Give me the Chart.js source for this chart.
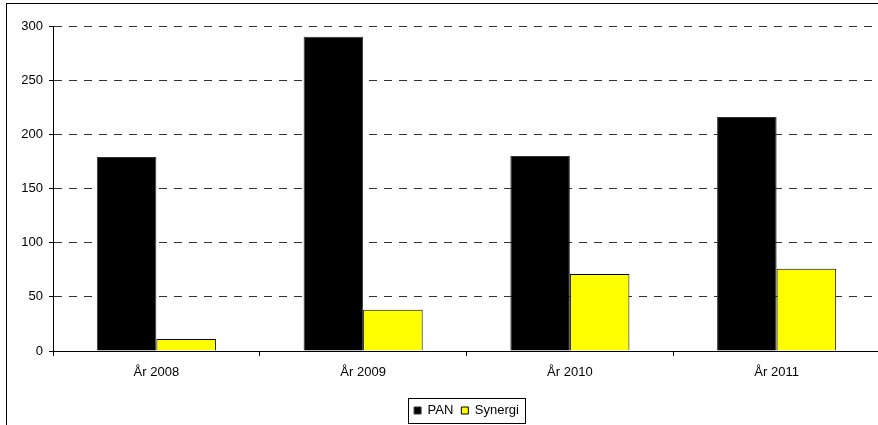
<!DOCTYPE html>
<html>
<head>
<meta charset="utf-8">
<script src="https://cdn.jsdelivr.net/npm/chart.js@4/dist/chart.umd.min.js"></script>
<style>
  html, body { margin: 0; padding: 0; background: #fff; overflow: hidden; }
  canvas { display: block; }
</style>
</head>
<body>
<canvas id="c" width="880" height="427"></canvas>
<script>
// Categories and series
const categories = ['År 2008', 'År 2009', 'År 2010', 'År 2011'];
const panValues = [179, 290, 180, 216];
const synergiValues = [11, 38, 71, 76];
const yTicks = [0, 50, 100, 150, 200, 250, 300];

const FONT = { family: '"Liberation Sans", Arial, sans-serif', size: 13 };

// White background and the outer frame of the chart
const framePlugin = {
  id: 'frame',
  beforeDraw(chart) {
    const ctx = chart.ctx;
    ctx.save();
    ctx.fillStyle = '#fff';
    ctx.fillRect(0, 0, chart.width, chart.height);
    ctx.strokeStyle = '#000';
    ctx.lineWidth = 1;
    ctx.strokeRect(6.5, 3.5, 3000, 3000);
    ctx.restore();
  }
};

// Border around the legend entries
const legendBoxPlugin = {
  id: 'legendBox',
  afterDraw(chart) {
    const lg = chart.legend;
    if (!lg || !lg.legendHitBoxes || !lg.legendHitBoxes.length) return;
    let minX = Infinity, maxX = -Infinity, top = Infinity, h = 0;
    lg.legendHitBoxes.forEach(b => {
      minX = Math.min(minX, b.left);
      maxX = Math.max(maxX, b.left + b.width);
      top = Math.min(top, b.top);
      h = Math.max(h, b.height);
    });
    const cy = top + h / 2;
    const x1 = Math.round(minX - 6) + 0.5;
    const x2 = Math.round(maxX + 6) + 0.5;
    const y1 = Math.round(cy - 12.7) + 0.5;
    const y2 = Math.round(cy + 12.3) + 0.5;
    const ctx = chart.ctx;
    ctx.save();
    ctx.strokeStyle = '#000';
    ctx.lineWidth = 1;
    ctx.strokeRect(x1, y1, x2 - x1, y2 - y1);
    ctx.restore();
  }
};

new Chart(document.getElementById('c'), {
  type: 'bar',
  data: {
    labels: categories,
    datasets: [
      {
        label: 'PAN',
        data: panValues,
        backgroundColor: '#000000',
        borderColor: '#333333',
        borderWidth: 1,
        borderSkipped: 'bottom'
      },
      {
        label: 'Synergi',
        data: synergiValues,
        backgroundColor: '#FFFF00',
        borderColor: '#000000',
        borderWidth: 1,
        borderSkipped: 'bottom'
      }
    ]
  },
  options: {
    responsive: false,
    animation: false,
    devicePixelRatio: 1,
    layout: { padding: { top: 26, left: 0, right: 0, bottom: 0 } },
    datasets: {
      bar: { categoryPercentage: 0.576, barPercentage: 1.0 }
    },
    scales: {
      x: {
        offset: true,
        grid: {
          offset: true,
          drawOnChartArea: false,
          drawTicks: true,
          tickLength: 5,
          tickColor: '#000',
          color: '#000'
        },
        border: { display: true, color: '#000', width: 1 },
        ticks: { color: '#000', font: FONT, padding: 9, maxRotation: 0 },
        afterFit(scale) { scale.height = 45; }
      },
      y: {
        min: 0,
        max: 300,
        afterBuildTicks(scale) { scale.ticks = yTicks.map(v => ({ value: v })); },
        grid: {
          color: '#333',
          lineWidth: 1,
          drawTicks: true,
          tickLength: 4,
          tickColor: '#000',
          tickBorderDash: []
        },
        border: { display: true, color: '#000', width: 1, dash: [8, 7] },
        ticks: { color: '#000', font: FONT, padding: 6 },
        afterFit(scale) { scale.width = 53; }
      }
    },
    plugins: {
      legend: {
        display: true,
        position: 'bottom',
        fullSize: false,
        align: 'center',
        labels: {
          color: '#000',
          font: FONT,
          boxWidth: 7,
          boxHeight: 7,
          padding: 8
        }
      },
      tooltip: { enabled: false },
      title: { display: false }
    }
  },
  plugins: [framePlugin, legendBoxPlugin]
});
</script>
</body>
</html>
